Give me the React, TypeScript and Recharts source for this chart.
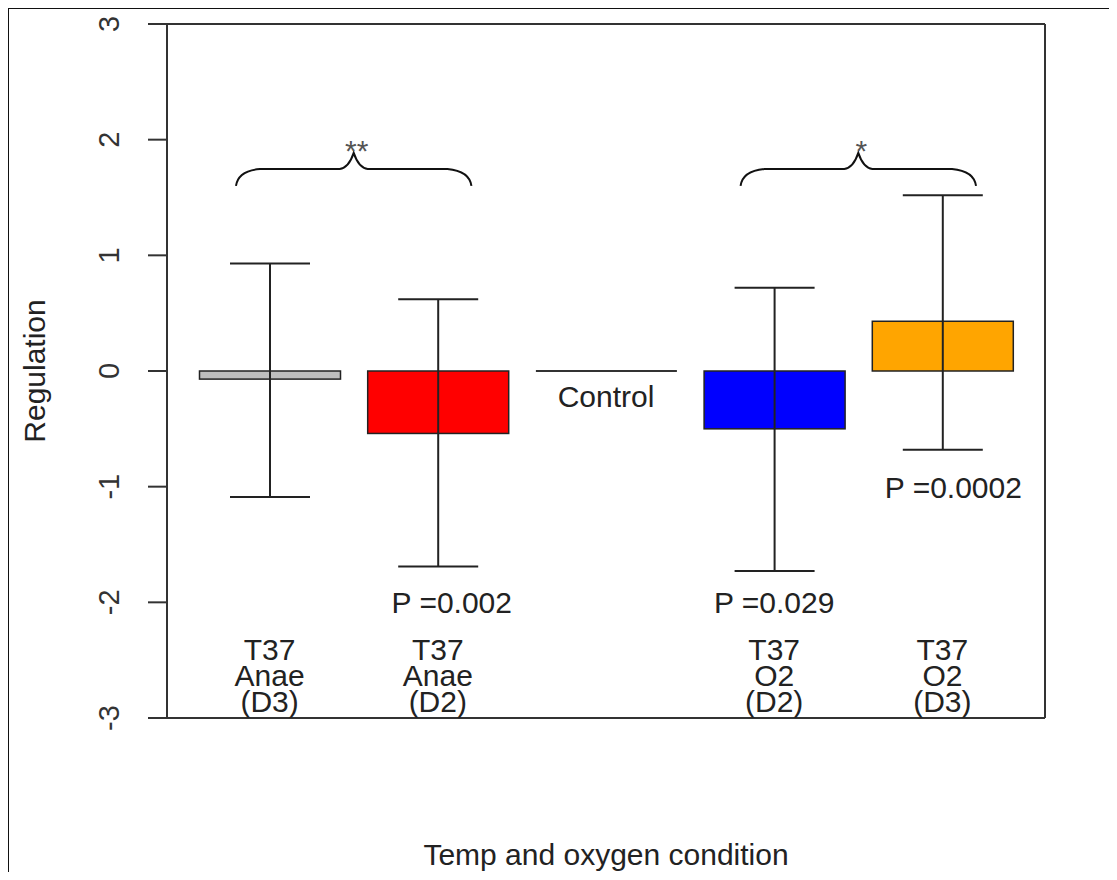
import { ComposedChart, Bar, XAxis, YAxis, ErrorBar, ReferenceLine, ReferenceDot } from 'recharts';

const FONT = '"Liberation Sans", Arial, sans-serif';

// bars, left to right
const categories = ['T37\nAnae\n(D3)', 'T37\nAnae\n(D2)', 'Control', 'T37\nO2\n(D2)', 'T37\nO2\n(D3)'];
const means = [-0.07, -0.54, 0, -0.5, 0.43];
const upperLimits = [0.93, 0.62, null, 0.72, 1.52];
const lowerLimits = [-1.09, -1.69, null, -1.73, -0.68];
const barColors = ['#bebebe', '#ff0000', 'none', '#0000ff', '#ffa500'];

const yTicks = [-3, -2, -1, 0, 1, 2, 3];
const yDomain = [-3, 3];

// significance brackets
const bracketFrom = [categories[0], categories[3]];
const bracketTo = [categories[1], categories[4]];
const bracketY = [1.6, 1.6];
const bracketMarks = ['**', '*'];

// p-value notes
const pCategories = [categories[1], categories[3], categories[4]];
const pY = [-2, -2, -1];
const pTexts = ['P =0.002', 'P =0.029', 'P =0.0002'];
const pDx = [14, 0, 11];

const controlLabel = 'Control';
const controlLabelY = -0.22;

const axisLine = { stroke: '#333', strokeWidth: 2 };

function BarShape(props: any) {
  const { x, y, width, height, index } = props;
  const top = Math.min(y, y + height);
  const h = Math.abs(height);
  if (!h) {
    return <line x1={x} x2={x + width} y1={y} y2={y} stroke="#333" strokeWidth={2} />;
  }
  return <rect x={x} y={top} width={width} height={h} fill={barColors[index]} stroke="#222" strokeWidth={1.5} />;
}

function CatTick(props: any) {
  const { x, y, payload } = props;
  if (payload.value === 'Control') return <g />;
  const lines = String(payload.value).split('\n');
  return (
    <text textAnchor="middle" fontSize={30} fill="#222" fontFamily={FONT}>
      {lines.map((l, i) => (
        <tspan key={i} x={x} y={y - 58 + i * 26}>
          {l}
        </tspan>
      ))}
    </text>
  );
}

function YTick(props: any) {
  const { x, y, payload } = props;
  const tx = x - 27;
  return (
    <text x={tx} y={y} transform={`rotate(-90 ${tx} ${y})`} textAnchor="middle" fontSize={29} fill="#333" fontFamily={FONT}>
      {payload.value}
    </text>
  );
}

function YTitle(props: any) {
  const vb = props.viewBox || { x: 0, y: 16, width: 159, height: 694 };
  const tx = vb.x + 37;
  const ty = vb.y + vb.height / 2;
  return (
    <text x={tx} y={ty} transform={`rotate(-90 ${tx} ${ty})`} textAnchor="middle" fontSize={30} fill="#222" fontFamily={FONT}>
      Regulation
    </text>
  );
}

function Bracket(props: any, mark: string) {
  const { x1, y1, x2 } = props;
  const band = x2 - x1;
  const xL = x1 - 0.2 * band;
  const xR = x2 + 0.2 * band;
  const mid = (x1 + x2) / 2;
  const Y = y1;
  const d = `M ${xL} ${Y} Q ${xL + 2} ${Y - 15} ${xL + 24} ${Y - 17} L ${mid - 14} ${Y - 17} Q ${mid - 5} ${Y - 18} ${mid} ${Y - 33} Q ${mid + 5} ${Y - 18} ${mid + 14} ${Y - 17} L ${xR - 24} ${Y - 17} Q ${xR - 2} ${Y - 15} ${xR} ${Y}`;
  return (
    <g>
      <path d={d} fill="none" stroke="#111" strokeWidth={2} />
      <text x={mid + 3} y={Y - 25} textAnchor="middle" fontSize={30} fill="#555" fontFamily={FONT}>
        {mark}
      </text>
    </g>
  );
}

export default function App() {
  const data = categories.map((name, i) => {
    const up = upperLimits[i];
    const lo = lowerLimits[i];
    return {
      name,
      mean: means[i],
      err: up == null || lo == null ? null : [means[i] - lo, up - means[i]],
    };
  });

  return (
    <div style={{ position: 'relative', width: 1101, height: 864 }}>
      <div
        style={{
          position: 'absolute',
          top: -2,
          left: -2,
          right: 0,
          bottom: 0,
          borderTop: '3px solid #111',
          borderLeft: '3px solid #111',
          pointerEvents: 'none',
        }}
      />
      <ComposedChart width={1101} height={864} data={data} margin={{ top: 15, right: 63, bottom: 0, left: 0 }}>
        <XAxis xAxisId="top" orientation="top" dataKey="name" height={1} tick={false} tickLine={false} axisLine={axisLine} />
        <XAxis
          dataKey="name"
          height={154}
          interval={0}
          tickLine={false}
          tickSize={0}
          tickMargin={0}
          axisLine={axisLine}
          padding={{ left: 18.5, right: 18.5 }}
          tick={<CatTick />}
          label={{ value: 'Temp and oxygen condition', position: 'insideBottom', offset: 7, fontSize: 30, fill: '#222', fontFamily: FONT }}
        />
        <YAxis
          domain={yDomain}
          ticks={yTicks}
          width={159}
          tickSize={19}
          tickLine={{ stroke: '#333', strokeWidth: 2 }}
          axisLine={axisLine}
          tick={<YTick />}
          label={<YTitle />}
          allowDataOverflow
        />
        <YAxis yAxisId="right" orientation="right" domain={yDomain} width={1} tick={false} tickLine={false} axisLine={axisLine} />
        <Bar dataKey="mean" barSize={141} shape={BarShape} isAnimationActive={false}>
          <ErrorBar dataKey="err" width={40} stroke="#222" strokeWidth={2} isAnimationActive={false} />
        </Bar>
        <Bar xAxisId="top" yAxisId="right" dataKey="mean" shape={() => <g />} legendType="none" isAnimationActive={false} />
        <ReferenceLine y={yDomain[1]} stroke="#333" strokeWidth={2} />
        {bracketFrom.map((from, i) => (
          <ReferenceLine
            key={`br${i}`}
            segment={[
              { x: from, y: bracketY[i] },
              { x: bracketTo[i], y: bracketY[i] },
            ]}
            shape={(p: any) => Bracket(p, bracketMarks[i])}
          />
        ))}
        {pCategories.map((c, i) => (
          <ReferenceDot
            key={`p${i}`}
            x={c}
            y={pY[i]}
            r={0}
            shape={(p: any) => (
              <text x={p.cx + pDx[i]} y={p.cy + 11} textAnchor="middle" fontSize={30} fill="#222" fontFamily={FONT}>
                {pTexts[i]}
              </text>
            )}
          />
        ))}
        <ReferenceDot
          x="Control"
          y={controlLabelY}
          r={0}
          shape={(p: any) => (
            <text x={p.cx} y={p.cy + 11} textAnchor="middle" fontSize={30} fill="#222" fontFamily={FONT}>
              {controlLabel}
            </text>
          )}
        />
      </ComposedChart>
    </div>
  );
}
